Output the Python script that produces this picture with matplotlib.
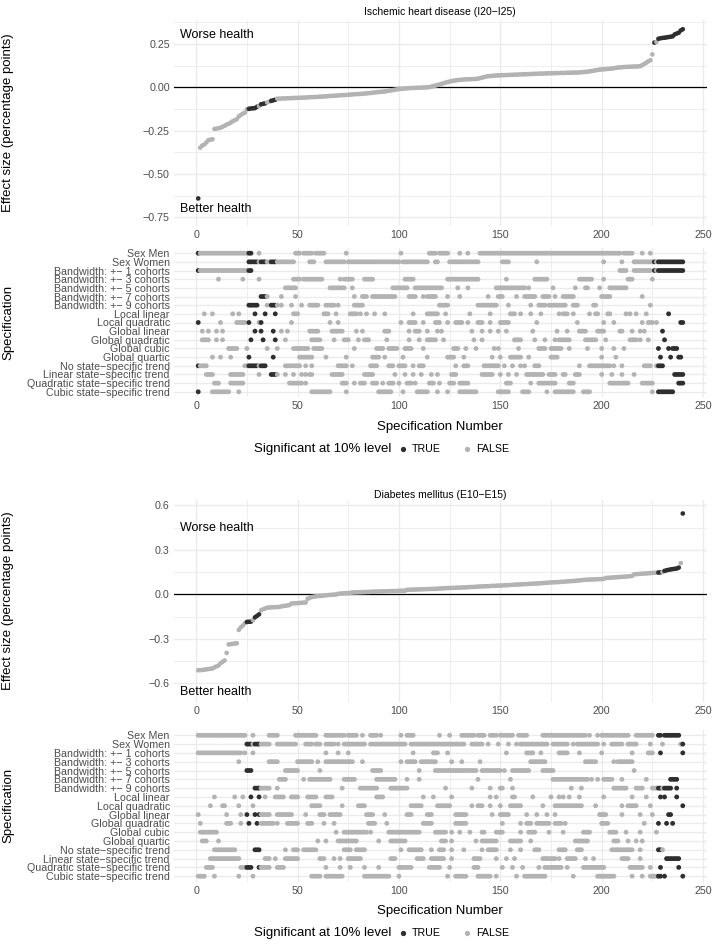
import numpy as np
import matplotlib
matplotlib.use("Agg")
import matplotlib.pyplot as plt
from matplotlib.lines import Line2D

plt.rcParams['font.family'] = ['Liberation Sans', 'DejaVu Sans']

# ---- data -------------------------------------------------------------
spec_labels = ["Sex Men", "Sex Women",
               "Bandwidth: +\u2212 1 cohorts", "Bandwidth: +\u2212 3 cohorts",
               "Bandwidth: +\u2212 5 cohorts", "Bandwidth: +\u2212 7 cohorts",
               "Bandwidth: +\u2212 9 cohorts",
               "Local linear", "Local quadratic", "Global linear",
               "Global quadratic", "Global cubic", "Global quartic",
               "No state\u2212specific trend", "Linear state\u2212specific trend",
               "Quadratic state\u2212specific trend", "Cubic state\u2212specific trend"]

ihd_title = "Ischemic heart disease (I20\u2212I25)"
dm_title = "Diabetes mellitus (E10\u2212E15)"

# sorted effect sizes, specification 1..240
ihd_estimate = [
    -0.641, -0.348, -0.336, -0.330, -0.318, -0.305, -0.302, -0.300, -0.240, -0.238,
    -0.236, -0.233, -0.228, -0.222, -0.215, -0.210, -0.204, -0.196, -0.190, -0.184,
    -0.168, -0.160, -0.152, -0.146, -0.127, -0.124, -0.122, -0.121, -0.120, -0.112,
    -0.108, -0.098, -0.095, -0.093, -0.087, -0.083, -0.078, -0.075, -0.072, -0.066,
    -0.065, -0.065, -0.064, -0.064, -0.063, -0.063, -0.062, -0.062, -0.061, -0.061,
    -0.060, -0.060, -0.059, -0.059, -0.058, -0.057, -0.057, -0.056, -0.056, -0.055,
    -0.054, -0.054, -0.053, -0.052, -0.051, -0.050, -0.049, -0.049, -0.048, -0.047,
    -0.046, -0.045, -0.045, -0.044, -0.043, -0.042, -0.041, -0.040, -0.039, -0.039,
    -0.038, -0.037, -0.036, -0.035, -0.034, -0.033, -0.031, -0.030, -0.028, -0.027,
    -0.026, -0.025, -0.024, -0.022, -0.020, -0.018, -0.016, -0.014, -0.012, -0.010,
    -0.009, -0.008, -0.007, -0.006, -0.005, -0.004, -0.004, -0.003, -0.003, -0.002,
    -0.002, -0.001, -0.001, 0.000, 0.001, 0.004, 0.007, 0.010, 0.013, 0.016,
    0.020, 0.024, 0.027, 0.030, 0.033, 0.036, 0.038, 0.040, 0.042, 0.043,
    0.044, 0.045, 0.046, 0.046, 0.047, 0.047, 0.048, 0.048, 0.050, 0.053,
    0.056, 0.059, 0.062, 0.064, 0.065, 0.066, 0.067, 0.068, 0.069, 0.069,
    0.070, 0.070, 0.071, 0.071, 0.072, 0.072, 0.073, 0.073, 0.074, 0.074,
    0.075, 0.075, 0.076, 0.076, 0.077, 0.077, 0.078, 0.078, 0.079, 0.079,
    0.079, 0.080, 0.080, 0.081, 0.081, 0.081, 0.082, 0.082, 0.082, 0.083,
    0.083, 0.083, 0.084, 0.084, 0.084, 0.085, 0.085, 0.085, 0.086, 0.087,
    0.088, 0.089, 0.090, 0.092, 0.094, 0.096, 0.098, 0.100, 0.102, 0.103,
    0.104, 0.105, 0.106, 0.107, 0.108, 0.110, 0.112, 0.114, 0.115, 0.116,
    0.117, 0.118, 0.118, 0.119, 0.119, 0.120, 0.120, 0.121, 0.122, 0.128,
    0.135, 0.142, 0.150, 0.156, 0.190, 0.258, 0.262, 0.280, 0.283, 0.285,
    0.286, 0.288, 0.290, 0.292, 0.294, 0.305, 0.310, 0.315, 0.328, 0.335]

dm_estimate = [
    -0.512, -0.511, -0.510, -0.508, -0.506, -0.504, -0.502, -0.500, -0.492, -0.486,
    -0.480, -0.465, -0.455, -0.446, -0.395, -0.338, -0.336, -0.334, -0.332, -0.330,
    -0.240, -0.222, -0.210, -0.195, -0.186, -0.185, -0.184, -0.174, -0.155, -0.145,
    -0.135, -0.108, -0.100, -0.096, -0.090, -0.089, -0.088, -0.087, -0.086, -0.086,
    -0.085, -0.081, -0.079, -0.077, -0.075, -0.072, -0.062, -0.061, -0.060, -0.059,
    -0.058, -0.057, -0.056, -0.055, -0.030, -0.024, -0.018, -0.016, -0.014, -0.012,
    -0.011, -0.010, -0.008, -0.007, -0.005, -0.004, -0.003, -0.002, -0.001, 0.003,
    0.005, 0.006, 0.007, 0.008, 0.009, 0.010, 0.012, 0.013, 0.013, 0.014,
    0.014, 0.015, 0.015, 0.016, 0.016, 0.017, 0.018, 0.018, 0.019, 0.019,
    0.019, 0.020, 0.020, 0.021, 0.021, 0.022, 0.022, 0.022, 0.023, 0.023,
    0.024, 0.024, 0.025, 0.030, 0.031, 0.031, 0.032, 0.032, 0.033, 0.033,
    0.034, 0.034, 0.035, 0.035, 0.036, 0.036, 0.037, 0.037, 0.038, 0.039,
    0.040, 0.041, 0.042, 0.042, 0.043, 0.043, 0.044, 0.044, 0.045, 0.045,
    0.046, 0.047, 0.047, 0.048, 0.049, 0.049, 0.050, 0.051, 0.052, 0.053,
    0.053, 0.054, 0.055, 0.055, 0.056, 0.057, 0.057, 0.058, 0.059, 0.059,
    0.060, 0.061, 0.061, 0.062, 0.063, 0.064, 0.065, 0.066, 0.066, 0.067,
    0.068, 0.069, 0.069, 0.070, 0.071, 0.072, 0.072, 0.073, 0.074, 0.075,
    0.076, 0.077, 0.078, 0.079, 0.080, 0.081, 0.082, 0.082, 0.083, 0.084,
    0.085, 0.086, 0.087, 0.088, 0.089, 0.090, 0.091, 0.093, 0.094, 0.095,
    0.097, 0.098, 0.099, 0.100, 0.100, 0.101, 0.101, 0.102, 0.102, 0.103,
    0.104, 0.110, 0.111, 0.112, 0.113, 0.114, 0.115, 0.116, 0.117, 0.118,
    0.119, 0.120, 0.121, 0.122, 0.124, 0.135, 0.136, 0.137, 0.138, 0.139,
    0.140, 0.141, 0.142, 0.143, 0.144, 0.145, 0.146, 0.147, 0.148, 0.150,
    0.158, 0.162, 0.165, 0.168, 0.170, 0.172, 0.174, 0.180, 0.210, 0.545]

# specifications significant at 10% (single numbers or inclusive ranges)
ihd_significant = [1, (26, 30), (32, 34), (37, 39), 226, (228, 240)]
dm_significant = [(25, 27), (29, 31), 228, 229, (231, 238), 240]

# which specifications use each choice (one entry per row of spec_labels)
ihd_choices = [
    [(1, 27), 31, (49, 51), (53, 57), (59, 63), 74, 101, (115, 118), (120, 124), 130, 134, (140, 209), (211, 215), 220, 224],
    [(26, 48), (56, 58), (64, 73), (75, 100), (102, 114), (118, 119), (125, 139), (151, 154), 168, 201, 210, (216, 240)],
    [(1, 27), (209, 212), (216, 224), (226, 240)],
    [11, 23, 31, (48, 51), (53, 62), 71, (73, 77), (83, 87), (103, 107), (124, 139), 153, (167, 173), (189, 195), 201, (213, 215), 225],
    [(44, 49), (66, 73), 77, (97, 104), (108, 121), 129, 134, (148, 162), 164, 176, 187, (192, 193), 199, (204, 212)],
    [(32, 35), 42, 49, 78, (82, 84), (87, 98), (105, 108), 112, (114, 118), 124, 130, 144, (149, 151), 158, (162, 167), (171, 174), 177, (181, 186), (200, 204), 220],
    [(26, 30), 35, (37, 40), 42, 47, 52, (56, 60), (64, 68), 70, (78, 82), (120, 124), (139, 148), 154, 165, (169, 172), (174, 182), (186, 188), (196, 197), 224],
    [4, 8, 18, 21, 29, 34, 39, (48, 50), (63, 65), 69, (76, 79), 81, 84, 88, 93, 107, (114, 119), 123, 135, 145, (155, 157), 160, 165, 170, 179, (181, 183), 186, 194, (197, 198), (203, 204), 212, 214, 217, 222, 233],
    [1, 12, (20, 24), 26, (31, 32), 47, 66, 70, 101, (105, 108), 112, (118, 120), 124, (128, 131), 134, (139, 141), 145, (150, 154), 168, 188, 201, 206, 220, (223, 225), 227, (239, 240)],
    [3, 6, 10, 13, 29, 32, 38, 42, 45, (56, 60), (67, 72), 79, 82, (93, 95), 105, (108, 110), 114, 119, 121, 136, 141, 145, 149, 153, 166, 178, 183, (189, 192), (198, 201), (209, 210), 215, 219, 221, 230],
    [(3, 6), 10, 13, 27, 33, 39, 44, (57, 61), 68, (73, 75), 80, (83, 85), 94, 105, 110, (114, 118), 122, 137, 141, (157, 160), 167, 172, 177, (179, 184), (192, 197), 202, (214, 217), 219, 223, 231],
    [(16, 20), 25, 35, 40, (48, 55), (58, 62), 78, (89, 92), (95, 99), (103, 106), 112, (127, 129), 133, 138, 147, 149, 159, (169, 172), (175, 180), 184, 193, 200, 206, 211, 228, 233, (235, 237)],
    [8, 12, 17, 26, 38, (51, 57), 64, 74, (87, 90), 93, 102, 114, (124, 127), 132, 146, 150, (155, 160), 164, (175, 178), 200, 207, 229, 234, (238, 239)],
    [(1, 5), (24, 34), (44, 51), 54, 57, (70, 74), 77, (86, 89), (95, 97), (100, 103), 107, (110, 112), 128, (132, 134), (142, 149), 152, 156, 160, 162, (167, 169), 189, (194, 204), 206, 210, (221, 224), (227, 230)],
    [(5, 8), (17, 23), 31, (37, 40), 44, 48, 52, 54, (56, 57), (67, 72), (83, 87), 98, 103, 107, 111, 116, 119, (126, 128), (141, 146), 150, 154, 158, (163, 171), (174, 177), (181, 182), (187, 189), 200, 205, 210, 216, (236, 240)],
    [(9, 11), (17, 23), (46, 52), 54, (72, 74), 78, (81, 83), (87, 89), 92, (95, 97), 100, (104, 106), 108, (115, 117), 120, (125, 127), (130, 134), (153, 155), 165, (169, 177), (184, 186), (204, 213), (220, 225), (238, 240)],
    [1, (8, 16), 21, (57, 66), 74, (90, 96), 102, (109, 114), 119, 124, (130, 138), (149, 154), (161, 164), 173, (177, 186), (191, 194), 225, (228, 235)],
]

dm_choices = [
    [(1, 24), 28, (36, 40), (49, 59), (64, 73), (75, 79), 82, (86, 89), 91, 101, (104, 107), 120, 125, (131, 137), (139, 142), (145, 148), (150, 156), (159, 163), (171, 192), 194, 198, (200, 213), (217, 225), (228, 229), (231, 238)],
    [(25, 36), (40, 49), (54, 57), (59, 61), (64, 68), 70, (73, 83), (86, 103), (106, 132), (136, 141), 144, 149, 154, 158, (160, 173), (176, 183), 186, (188, 198), 201, (205, 210), (213, 217), 224, 230, (239, 240)],
    [(1, 22), 24, 28, 64, 70, 75, 107, (117, 119), 124, 153, (163, 166), 170, (179, 183), 189, 200, 215, (223, 225), 229, 240],
    [21, (36, 40), (50, 57), 60, (64, 77), 82, 101, (104, 108), (111, 118), 126, 131, 140, (165, 172), (192, 197), 206, (208, 215)],
    [(25, 27), (44, 50), 61, (87, 91), 110, (118, 138), (141, 150), 152, (156, 164), (171, 176), 216],
    [(41, 44), 53, (56, 66), (73, 78), (89, 98), 104, 110, 139, 155, (176, 193), 195, 198, (201, 205), 210, 222, (234, 237)],
    [(29, 36), 40, 72, (81, 89), (96, 104), 123, 136, 145, (150, 151), 156, 185, 190, (206, 212), (217, 220), (225, 234), 237],
    [9, 19, 23, 27, 31, 34, (39, 43), (47, 50), (55, 59), (64, 67), (89, 92), 112, 117, 126, 145, 148, (156, 157), 166, 175, 179, 181, 184, 189, 201, 215, 222, 229, 231, 237],
    [7, (13, 14), 21, 28, (57, 61), 72, (80, 83), (106, 111), (119, 125), 136, (139, 141), 145, 150, (155, 160), 171, (177, 190), 197, 210, (213, 217), 224, 240],
    [1, 15, 22, 25, 29, (31, 36), (40, 47), 54, (61, 63), (66, 71), (84, 87), 93, (104, 106), (114, 116), (128, 133), 146, (150, 154), 163, 168, 173, 177, (199, 202), 210, 219, 225, (233, 234)],
    [2, (15, 17), 22, 26, 30, (32, 38), 40, (45, 50), (55, 57), 63, 68, (85, 88), 94, (112, 116), (128, 133), 151, 160, (163, 165), (168, 174), (177, 180), 182, (200, 203), 221, 228, 232, 235],
    [(2, 10), 69, (73, 84), 86, (95, 110), (118, 123), 126, 130, 135, (141, 142), (148, 151), 160, (164, 167), 174, 181, (191, 194), (204, 207), 212, 219, 227],
    [(3, 5), 11, 60, 64, (70, 79), 90, (96, 103), (121, 123), 126, 138, (141, 148), (155, 160), 165, (187, 193), (206, 208), 213, 217, 220],
    [(9, 19), (29, 31), 44, (48, 50), (53, 59), (73, 76), (79, 83), 101, (105, 111), 116, (120, 122), 126, 132, 141, (144, 148), 155, 160, (167, 169), (179, 182), (188, 190), (205, 215), 219, (228, 230)],
    [(7, 21), (34, 36), 39, (44, 50), (61, 63), 68, 71, (75, 81), (96, 98), (109, 112), (116, 122), 126, (137, 140), 148, 153, 157, (171, 177), 179, (183, 187), 192, 196, (210, 213), 219, (232, 238)],
    [(5, 8), (22, 27), (31, 36), (40, 43), 64, 71, 76, 83, 90, (100, 106), (115, 120), 125, (137, 139), 151, 156, 161, 169, (172, 180), 183, (191, 201), (214, 220), 224, 229, 238],
    [(1, 4), 9, 21, 28, (57, 61), (64, 72), (83, 95), 100, 124, (128, 133), (139, 145), 148, 158, (162, 172), 186, (198, 206), 215, 220, (224, 229), 231, 240],
]

# ---- style ------------------------------------------------------------
DARK = "#2e2e2e"
LIGHT = "#b3b3b3"
GRID = "#ebebeb"
TICK_COL = "#4d4d4d"
W, H = 714, 944


def expand(runs):
    out = []
    for r in runs:
        if isinstance(r, tuple):
            out.extend(range(r[0], r[1] + 1))
        else:
            out.append(r)
    return sorted(set(out))


def rect(left, top, right, bottom):
    return [left / W, 1 - bottom / H, (right - left) / W, (bottom - top) / H]


def style_axes(ax):
    for s in ax.spines.values():
        s.set_visible(False)
    ax.set_facecolor("white")
    ax.tick_params(which="both", length=0, labelsize=7.7, colors=TICK_COL, pad=3)
    ax.set_xlim(-10.95, 251.95)
    ax.set_xticks([0, 50, 100, 150, 200, 250])
    ax.set_xticks([25, 75, 125, 175, 225], minor=True)
    ax.grid(which="major", color=GRID, lw=1.0, zorder=0)
    ax.grid(which="minor", axis="x", color=GRID, lw=0.6, zorder=0)
    ax.set_axisbelow(True)


def draw_curve(ax, est, sig, ylim, yticks, yticklabels, yminor, worse_y, better_y):
    style_axes(ax)
    spec_n = np.arange(1, len(est) + 1)
    colors = [DARK if s else LIGHT for s in sig]
    ax.axhline(0, color="black", lw=0.9, zorder=2)
    ax.scatter(spec_n, est, c=colors, s=11, linewidths=0, zorder=3)
    ax.set_ylim(*ylim)
    ax.set_yticks(yticks)
    ax.set_yticklabels(yticklabels)
    ax.set_yticks(yminor, minor=True)
    ax.grid(which="minor", axis="y", color=GRID, lw=0.6, zorder=0)
    ax.text(-8, worse_y, "Worse health", ha="left", va="center", fontsize=9)
    ax.text(-8, better_y, "Better health", ha="left", va="center", fontsize=9)


def draw_matrix(ax, choices, sig):
    style_axes(ax)
    for i, runs in enumerate(choices):
        xs = expand(runs)
        cols = [DARK if sig[x - 1] else LIGHT for x in xs]
        ax.scatter(xs, [i] * len(xs), c=cols, s=12, linewidths=0, zorder=3)
    ax.set_ylim(len(choices) - 0.4, -0.6)
    ax.set_yticks(range(len(choices)))
    ax.set_yticklabels(spec_labels)


def legend(fig, y):
    fig.text(254 / W, 1 - y / H, "Significant at 10% level", fontsize=9.5,
             ha="left", va="center")
    for xm, lab, col in [(403, "TRUE", DARK), (467, "FALSE", LIGHT)]:
        fig.add_artist(Line2D([xm / W], [1 - y / H], marker="o", ms=3.8, mew=0,
                              color=col, transform=fig.transFigure))
        fig.text((xm + 9) / W, 1 - y / H, lab, fontsize=7.7, ha="left",
                 va="center", color="black")


ihd_sig = np.isin(np.arange(1, 241), expand(ihd_significant))
dm_sig = np.isin(np.arange(1, 241), expand(dm_significant))

fig = plt.figure(figsize=(W / 100, H / 100), dpi=100)

# ---- ischemic heart disease -------------------------------------------
ax1 = fig.add_axes(rect(174, 19.7, 707, 226))
draw_curve(ax1, ihd_estimate, ihd_sig, (-0.80, 0.39),
           [-0.75, -0.5, -0.25, 0, 0.25],
           ["\u22120.75", "\u22120.50", "\u22120.25", "0.00", "0.25"],
           [-0.625, -0.375, -0.125, 0.125, 0.375], 0.30, -0.70)
fig.text(440 / W, 1 - 11.7 / H, ihd_title, ha="center", va="center", fontsize=7.5)

ax2 = fig.add_axes(rect(174, 248, 707, 397))
draw_matrix(ax2, ihd_choices, ihd_sig)
fig.text(440 / W, 1 - 427 / H, "Specification Number", ha="center", va="center", fontsize=9.5)
legend(fig, 449)

# ---- diabetes ----------------------------------------------------------
ax3 = fig.add_axes(rect(174, 500, 707, 702))
draw_curve(ax3, dm_estimate, dm_sig, (-0.726, 0.636),
           [-0.6, -0.3, 0, 0.3, 0.6],
           ["\u22120.6", "\u22120.3", "0.0", "0.3", "0.6"],
           [-0.45, -0.15, 0.15, 0.45], 0.45, -0.657)
fig.text(440 / W, 1 - 495 / H, dm_title, ha="center", va="center", fontsize=7.5)

ax4 = fig.add_axes(rect(174, 730, 707, 881.5))
draw_matrix(ax4, dm_choices, dm_sig)
fig.text(440 / W, 1 - 911 / H, "Specification Number", ha="center", va="center", fontsize=9.5)
legend(fig, 933)

# y axis titles
for top, bottom, lab in [(19.7, 226, "Effect size (percentage points)"),
                         (248, 397, "Specification"),
                         (500, 702, "Effect size (percentage points)"),
                         (730, 881.5, "Specification")]:
    fig.text(8 / W, 1 - (top + bottom) / 2 / H, lab, rotation=90, ha="center",
             va="center", fontsize=9.5)

fig.savefig("out.png", dpi=100, facecolor="white")
